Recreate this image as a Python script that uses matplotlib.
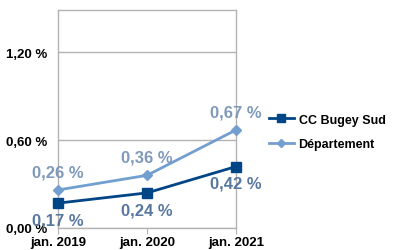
import matplotlib
matplotlib.use("Agg")
import matplotlib.pyplot as plt
from matplotlib.ticker import FuncFormatter

# values
years = ["jan. 2019", "jan. 2020", "jan. 2021"]
cc_bugey = [0.17, 0.24, 0.42]
departement = [0.26, 0.36, 0.67]
yticks = [0.0, 0.6, 1.2]

plt.rcParams['font.family'] = ['Liberation Sans', 'DejaVu Sans']

fig = plt.figure(figsize=(3.95, 2.51), dpi=100)
ax = fig.add_axes([58 / 395, 22 / 251, 178 / 395, 218 / 251])

x = list(range(len(years)))
dark = "#004586"
light = "#729fcf"

ax.plot(x, departement, color=light, lw=2, marker="D", ms=5,
        label="Département", clip_on=False, zorder=3)
ax.plot(x, cc_bugey, color=dark, lw=2, marker="s", ms=6.5,
        label="CC Bugey Sud", clip_on=False, zorder=4)

# data labels
for xi, v in zip(x, departement):
    ax.annotate(f"{v:.2f} %".replace(".", ","), (xi, v), xytext=(0, 13),
                textcoords="offset points", ha="center", va="center",
                fontsize=12, fontweight="bold", color="#7f99ba",
                annotation_clip=False, zorder=5)
for xi, v in zip(x, cc_bugey):
    ax.annotate(f"{v:.2f} %".replace(".", ","), (xi, v), xytext=(0, -12),
                textcoords="offset points", ha="center", va="center",
                fontsize=12, fontweight="bold", color="#5877a0",
                annotation_clip=False, zorder=5)

ax.set_xlim(0, 2)
ax.set_ylim(0, 1.49)
ax.set_xticks(x)
ax.set_xticklabels(years, fontsize=9.5, fontweight="bold")
ax.set_yticks(yticks)
ax.yaxis.set_major_formatter(FuncFormatter(lambda v, p: f"{v:.2f} %".replace(".", ",")))
for lab in ax.get_yticklabels():
    lab.set_fontweight("bold")
    lab.set_fontsize(9.5)

ax.grid(axis="y", color="#b3b3b3", lw=1)
ax.set_axisbelow(True)
for s in ax.spines.values():
    s.set_color("#b3b3b3")
    s.set_linewidth(1)
ax.tick_params(axis="x", length=4, color="#b3b3b3", pad=2)
ax.tick_params(axis="y", length=0, pad=8)

handles, labels = ax.get_legend_handles_labels()
ax.legend(handles[::-1], labels[::-1], loc="center left", bbox_to_anchor=(1.12, 0.44),
          frameon=False, prop={"weight": "bold", "size": 9}, handlelength=2.0,
          handletextpad=0.4, labelspacing=1.0, markerscale=0.8)

fig.savefig("out.png", dpi=100)
